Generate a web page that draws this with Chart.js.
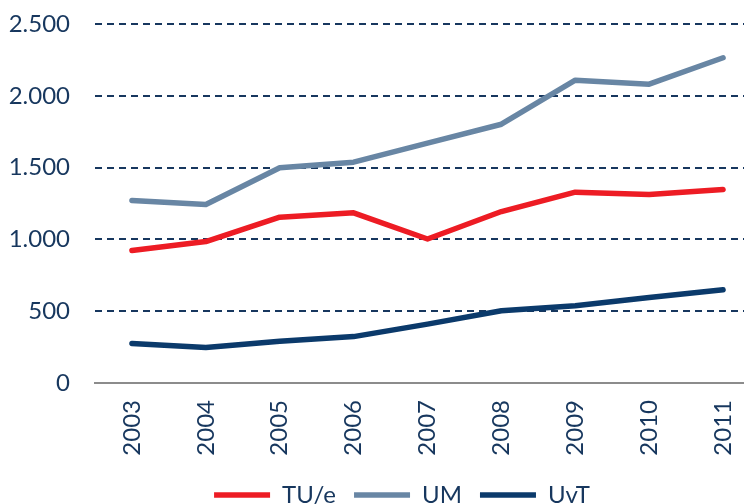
<!DOCTYPE html>
<html>
<head>
<meta charset="utf-8">
<script src="https://cdn.jsdelivr.net/npm/chart.js@4.4.1/dist/chart.umd.min.js"></script>
<style>
  html, body { margin: 0; padding: 0; overflow: hidden; background: #fff; width: 744px; height: 504px; }
  #wrap { width: 760px; height: 517px; position: relative; }
</style>
</head>
<body>
<div id="wrap"><canvas id="c" width="760" height="517"></canvas></div>
<script>
const years = ['2003','2004','2005','2006','2007','2008','2009','2010','2011'];
const tue = [922, 985, 1155, 1185, 1003, 1194, 1329, 1313, 1348];
const um  = [1271, 1243, 1499, 1538, 1670, 1802, 2109, 2081, 2265];
const uvt = [275, 247, 290, 323, 410, 503, 538, 596, 649];
const yTicks = [0, 500, 1000, 1500, 2000, 2500];

const navy = '#17375E';
const fontFam = 'Lato, "Open Sans", sans-serif';

function fmt(v) {
  return String(v).replace(/\B(?=(\d{3})+(?!\d))/g, '.');
}

function ds(label, data, color) {
  return {
    label, data,
    borderColor: color, backgroundColor: color,
    borderWidth: 5.5, pointRadius: 0, pointHoverRadius: 0,
    tension: 0, borderCapStyle: 'round', borderJoinStyle: 'round', fill: false
  };
}

const legendShift = {
  id: 'legendShift',
  afterLayout(chart) {
    if (chart.legend) { chart.legend.left += 22; chart.legend.right += 22; }
  }
};

new Chart(document.getElementById('c'), {
  type: 'line',
  data: {
    labels: years,
    datasets: [
      ds('TU/e', tue, '#ED1C24'),
      ds('UM', um, '#6886A4'),
      ds('UvT', uvt, '#0B3A6B')
    ]
  },
  plugins: [legendShift],
  options: {
    responsive: false,
    animation: false,
    events: [],
    layout: { padding: { top: 24, right: 0, left: 0, bottom: 0 } },
    plugins: {
      tooltip: { enabled: false },
      legend: {
        position: 'bottom',
        labels: {
          usePointStyle: true,
          pointStyle: 'line',
          pointStyleWidth: 56,
          padding: 18,
          color: navy,
          font: { family: fontFam, size: 24 }
        }
      }
    },
    scales: {
      x: {
        offset: true,
        grid: { display: false, drawTicks: false },
        border: { display: true, color: '#8C8C8C', width: 2 },
        ticks: {
          minRotation: 90, maxRotation: 90, padding: 17,
          color: navy, font: { family: fontFam, size: 24 }
        },
        afterFit: (s) => { s.height = 82; s.paddingLeft = 0; s.paddingRight = 0; }
      },
      y: {
        min: 0, max: 2500,
        afterBuildTicks: (s) => { s.ticks = yTicks.map(v => ({ value: v })); },
        grid: {
          drawTicks: false,
          color: (ctx) => ctx.tick && ctx.tick.value === 0 ? 'rgba(0,0,0,0)' : navy,
          lineWidth: 2
        },
        border: { display: false, dash: [7, 5] },
        ticks: {
          padding: 25, color: navy,
          font: { family: fontFam, size: 24 },
          callback: (v) => fmt(v)
        },
        afterFit: (s) => { s.width = 95; s.paddingTop = 0; s.paddingBottom = 0; }
      }
    }
  }
});
</script>
</body>
</html>
